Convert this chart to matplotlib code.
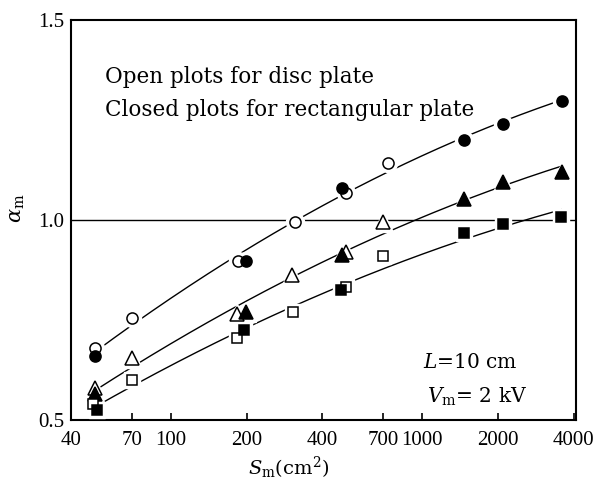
import numpy as np
import matplotlib
matplotlib.use("Agg")
import matplotlib.pyplot as plt

plt.rcParams['font.family'] = ['DejaVu Serif', 'Liberation Serif']
plt.rcParams['mathtext.fontset'] = 'custom'
plt.rcParams['mathtext.rm'] = 'DejaVu Serif'
plt.rcParams['mathtext.it'] = 'DejaVu Serif:italic'

# Disc plate (open) and rectangular plate (closed) data
circ_open_x = [50, 70, 184, 312, 495, 729]
circ_open_y = [0.68, 0.756, 0.897, 0.995, 1.068, 1.143]
circ_closed_x = [50, 198, 480, 1460, 2095, 3612]
circ_closed_y = [0.66, 0.897, 1.080, 1.201, 1.241, 1.299]

tri_open_x = [50, 70, 183, 304, 495, 700]
tri_open_y = [0.580, 0.656, 0.766, 0.862, 0.920, 0.995]
tri_closed_x = [50, 198, 480, 1460, 2095, 3612]
tri_closed_y = [0.565, 0.771, 0.912, 1.053, 1.095, 1.120]

sq_open_x = [49, 70, 183, 305, 495, 700]
sq_open_y = [0.540, 0.600, 0.704, 0.771, 0.832, 0.910]
sq_closed_x = [51, 195, 475, 1460, 2095, 3580]
sq_closed_y = [0.525, 0.724, 0.824, 0.967, 0.990, 1.008]

x_ticks = [40, 70, 100, 200, 400, 700, 1000, 2000, 4000]
y_ticks = [0.5, 1.0, 1.5]

fig = plt.figure(figsize=(5.93, 4.8), dpi=100)
ax = fig.add_axes([0.1197, 0.125, 0.852, 0.833])
ax.set_xscale('log')
ax.set_xlim(40, 4100)
ax.set_ylim(0.5, 1.5)

ax.axhline(1.0, color='black', lw=1.0, zorder=1)

def fit_curve(xo, yo, xc, yc):
    xs = np.array(xo + xc, float)
    ys = np.array(yo + yc, float)
    lx = np.log10(xs)
    p = np.polyfit(lx, ys, 2)
    gx = np.linspace(lx.min(), lx.max(), 200)
    ax.plot(10**gx, np.polyval(p, gx), color='black', lw=1.0, zorder=2)

fit_curve(circ_open_x, circ_open_y, circ_closed_x, circ_closed_y)
fit_curve(tri_open_x, tri_open_y, tri_closed_x, tri_closed_y)
fit_curve(sq_open_x, sq_open_y, sq_closed_x, sq_closed_y)

sets = [
    (circ_open_x, circ_open_y, 'o', 'white', 8),
    (circ_closed_x, circ_closed_y, 'o', 'black', 8),
    (tri_open_x, tri_open_y, '^', 'white', 9.5),
    (tri_closed_x, tri_closed_y, '^', 'black', 9.5),
    (sq_open_x, sq_open_y, 's', 'white', 7),
    (sq_closed_x, sq_closed_y, 's', 'black', 7),
]
for xs, ys, m, fc, ms in sets:
    ax.plot(xs, ys, ls='none', marker=m, ms=ms + 5, mfc='white', mec='white', zorder=3)
for xs, ys, m, fc, ms in sets:
    ax.plot(xs, ys, ls='none', marker=m, ms=ms, mfc=fc, mec='black', mew=1.1, zorder=4)

ax.set_xticks(x_ticks)
ax.set_xticklabels([str(t) for t in x_ticks], fontfamily='Liberation Serif')
ax.xaxis.set_minor_locator(matplotlib.ticker.NullLocator())
ax.set_yticks(y_ticks)
ax.set_yticklabels(['0.5', '1.0', '1.5'], fontfamily='Liberation Serif')
ax.tick_params(axis='x', direction='in', length=5, width=1.2, labelsize=15, pad=8)
ax.tick_params(axis='y', direction='in', length=0, labelsize=15, pad=5)
for s in ax.spines.values():
    s.set_linewidth(1.5)

ax.set_xlabel(r'$S$$_{\rm m}$(cm$^2$)', fontsize=14)
ax.xaxis.set_label_coords(0.43, -0.088)
ax.set_ylabel(r'$\alpha$$_{\rm m}$', fontsize=15)
ax.yaxis.set_label_coords(-0.088, 0.53)

ax.text(0.067, 0.857, 'Open plots for disc plate', transform=ax.transAxes,
        fontsize=15.5, va='center', ha='left')
ax.text(0.067, 0.775, 'Closed plots for rectangular plate', transform=ax.transAxes,
        fontsize=15.5, va='center', ha='left')
ax.text(0.697, 0.143, r'$L$=10 cm', transform=ax.transAxes, fontsize=14.5, va='center')
ax.text(0.705, 0.058, r'$V$$_{\rm m}$= 2 kV', transform=ax.transAxes, fontsize=14.5, va='center')

fig.savefig('out.png', dpi=100)
